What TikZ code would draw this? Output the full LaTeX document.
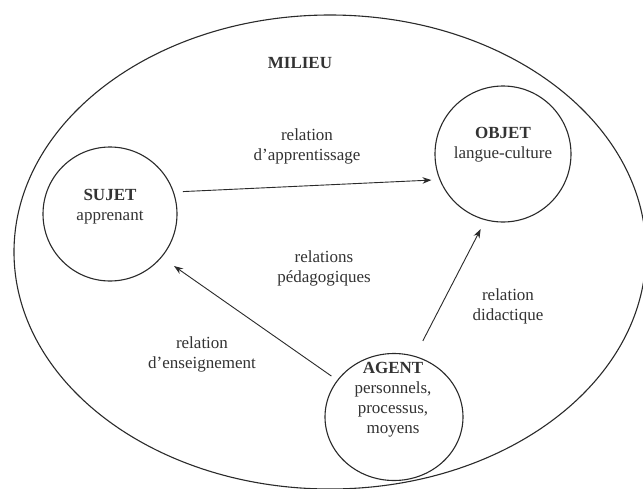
\documentclass[tikz,border=0pt]{standalone}
\usepackage{fontspec}
\setmainfont{Liberation Serif}
\usetikzlibrary{shapes.geometric,arrows.meta}
\definecolor{ink}{HTML}{2A2A2A}
\definecolor{txt}{HTML}{333333}
\begin{document}
\begin{tikzpicture}[x=1pt,y=-1pt,
  ring/.style={draw=ink,line width=1.1pt,circle,inner sep=0pt},
  oval/.style={draw=ink,line width=1.1pt,ellipse,inner sep=0pt},
  lbl/.style={text=txt,align=center,inner sep=0pt,font=\fontsize{17}{20}\selectfont},
  rel/.style={draw=ink,line width=0.9pt,-{Stealth[length=9pt,width=6.5pt]}}]
\useasboundingbox (0,0) rectangle (643,488);
\fill[white] (0,0) rectangle (643,488);
% outer milieu
\node[oval,minimum width=632pt,minimum height=474pt] (milieu) at (330,252) {};
% poles
\node[ring,minimum size=134pt] (sujet) at (110,214) {};
\node[ring,minimum size=136pt] (objet) at (503,154) {};
\node[oval,minimum width=138pt,minimum height=127pt] (agent) at (394,417) {};
% texts
\node[lbl] (milieutxt) at (300,63) {\bfseries MILIEU};
\node[lbl] (sujettxt) at (110,207) {\bfseries SUJET\\apprenant};
\node[lbl] (objettxt) at (503,145) {\bfseries OBJET\\langue-culture};
\node[lbl] (agenttxt) at (393,400) {\bfseries AGENT\\personnels,\\processus,\\moyens};
\node[lbl] (apprtxt) at (307,146) {relation\\d’apprentissage};
\node[lbl] (pedatxt) at (324,268) {relations\\pédagogiques};
\node[lbl] (didtxt) at (508,306) {relation\\didactique};
\node[lbl] (enstxt) at (202,354) {relation\\d’enseignement};
% relations
\draw[rel,shorten <=9pt,shorten >=8pt] (sujet.19) -- (objet.202);
\draw[rel,shorten <=7pt,shorten >=15pt] (agent.147) -- (sujet.320);
\draw[rel,shorten <=17pt,shorten >=10pt] (agent.71) -- (objet.255);
\end{tikzpicture}
\end{document}
